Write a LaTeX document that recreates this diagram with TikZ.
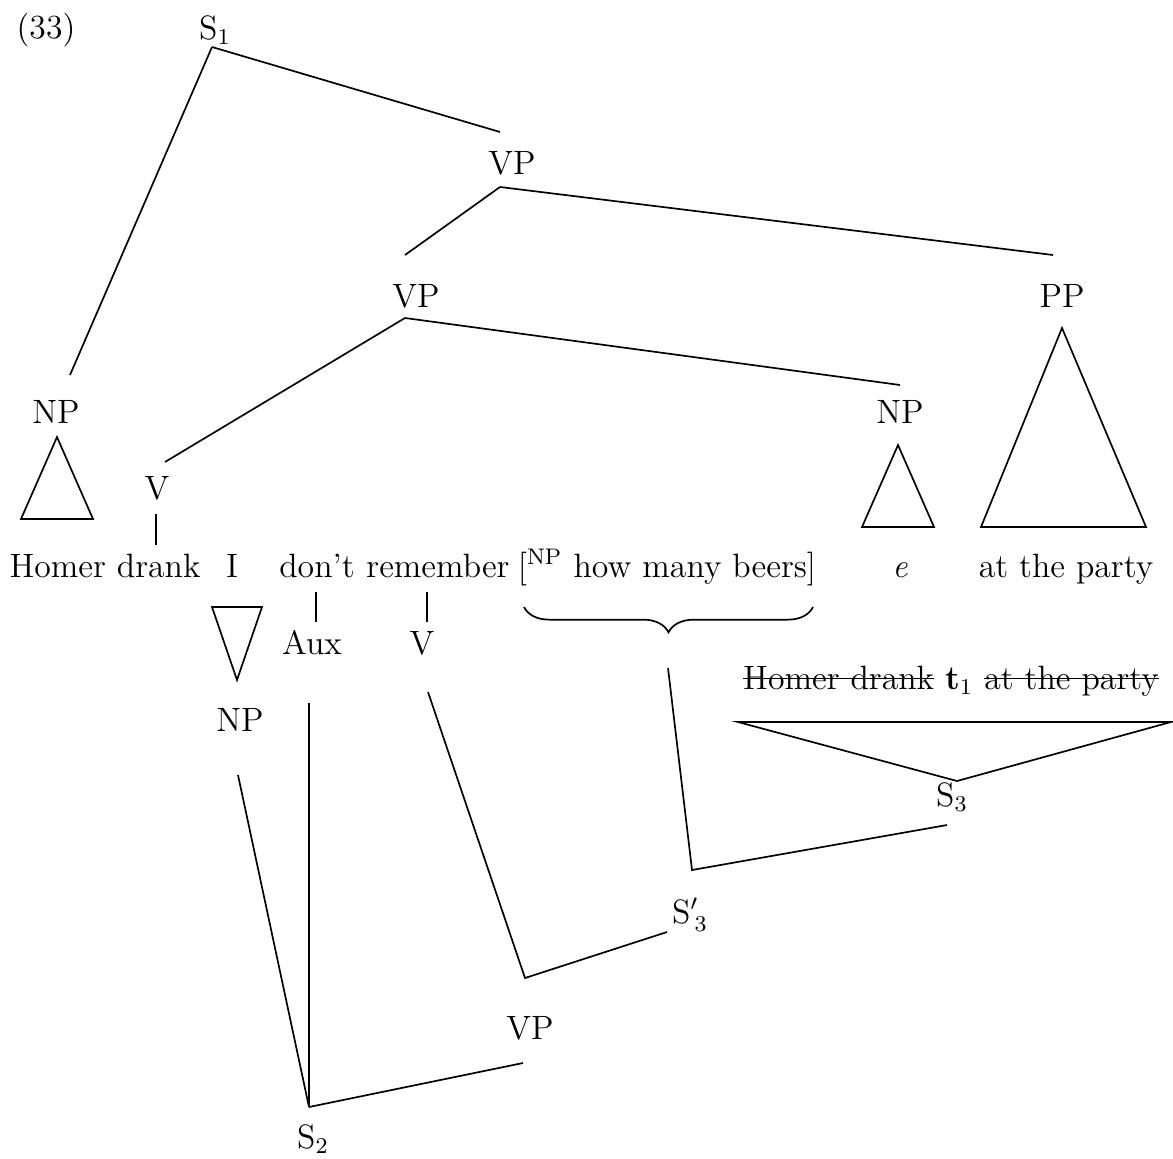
\documentclass[tikz,border=0pt]{standalone}
\usetikzlibrary{decorations.pathreplacing}

\newcommand\strk[1]{\setbox0\hbox{#1}\rlap{\rule[0.3em]{\wd0}{0.5pt}}\box0\relax}

\tikzset{
  lbl/.style={inner sep=1pt, font=\fontsize{12}{14}\selectfont},
  wrd/.style={lbl, anchor=base},
  br/.style={line width=0.6pt},
}

\begin{document}
\begin{tikzpicture}[x=0.0125cm, y=-0.0125cm]
  \useasboundingbox (0,0) rectangle (1173,1158);

  \node[lbl] (ex)  at (46,30)    {(33)};
  \node[lbl] (S1)  at (215,30)   {S$_1$};
  \node[lbl] (VPa) at (512,163)  {VP};
  \node[lbl] (VPb) at (416,296)  {VP};
  \node[lbl] (PP)  at (1062,296) {PP};
  \node[lbl] (NPa) at (56,412)   {NP};
  \node[lbl] (NPe) at (900,412)  {NP};
  \node[lbl] (Va)  at (157,488)  {V};

  \node[wrd] (homer) at (105,577)  {Homer drank};
  \node[wrd] (I)     at (232,577)  {I};
  \node[wrd] (dont)  at (317,577)  {don't};
  \node[wrd] (rem)   at (438,577)  {remember};
  \node[wrd] (beers) at (667,577)  {[\textsuperscript{NP} how many beers]};
  \node[wrd] (e)     at (900,577)  {\textit{e}};
  \node[wrd] (party) at (1066,577) {at the party};

  \node[lbl] (Aux)  at (312,643)  {Aux};
  \node[lbl] (Vb)   at (422,643)  {V};
  \node[lbl] (NPi)  at (240,720)  {NP};
  \node[lbl] (gone) at (951,681)  {\strk{Homer drank} \textbf{t$_1$} \strk{at the party}};
  \node[lbl] (S3)   at (952,797)  {S$_3$};
  \node[lbl] (S3p)  at (690,915)  {S$'_{\,3}$};
  \node[lbl] (VPc)  at (530,1028) {VP};
  \node[lbl] (S2)   at (313,1139) {S$_2$};

  \coordinate (s1j)  at (212,47);
  \coordinate (vpaj) at (500,187);
  \coordinate (vpbj) at (405,318);
  \coordinate (bt)   at (668,668);
  \coordinate (s3j)  at (692,870);
  \coordinate (s3pj) at (525,978);
  \coordinate (s2j)  at (309,1107);

  \draw[br] (s1j) -- (500,132);
  \draw[br] (s1j) -- (70,375);
  \draw[br] (vpaj) -- (405,255);
  \draw[br] (vpaj) -- (1053,255);
  \draw[br] (vpbj) -- (165,462);
  \draw[br] (vpbj) -- (900,385);
  \draw[br] (156,514) -- (156,545);

  \draw[br] (57,437) -- (21,519) -- (93,519) -- cycle;
  \draw[br] (898,445) -- (862,527) -- (934,527) -- cycle;
  \draw[br] (1062,328) -- (981,527) -- (1146,527) -- cycle;
  \draw[br] (212,607) -- (262,607) -- (237,680) -- cycle;
  \draw[br] (738,722) -- (1171,722) -- (957,781) -- cycle;

  \draw[br] (316,592) -- (316,622);
  \draw[br] (427,592) -- (427,622);
  \draw[br, decorate, decoration={brace, mirror, amplitude=9pt}] (524,607) -- (813,607);

  \draw[br] (bt) -- (s3j) -- (947,825);
  \draw[br] (428,692) -- (s3pj) -- (667,932);
  \draw[br] (238,775) -- (s2j);
  \draw[br] (309,703) -- (s2j);
  \draw[br] (s2j) -- (523,1063);
\end{tikzpicture}
\end{document}
